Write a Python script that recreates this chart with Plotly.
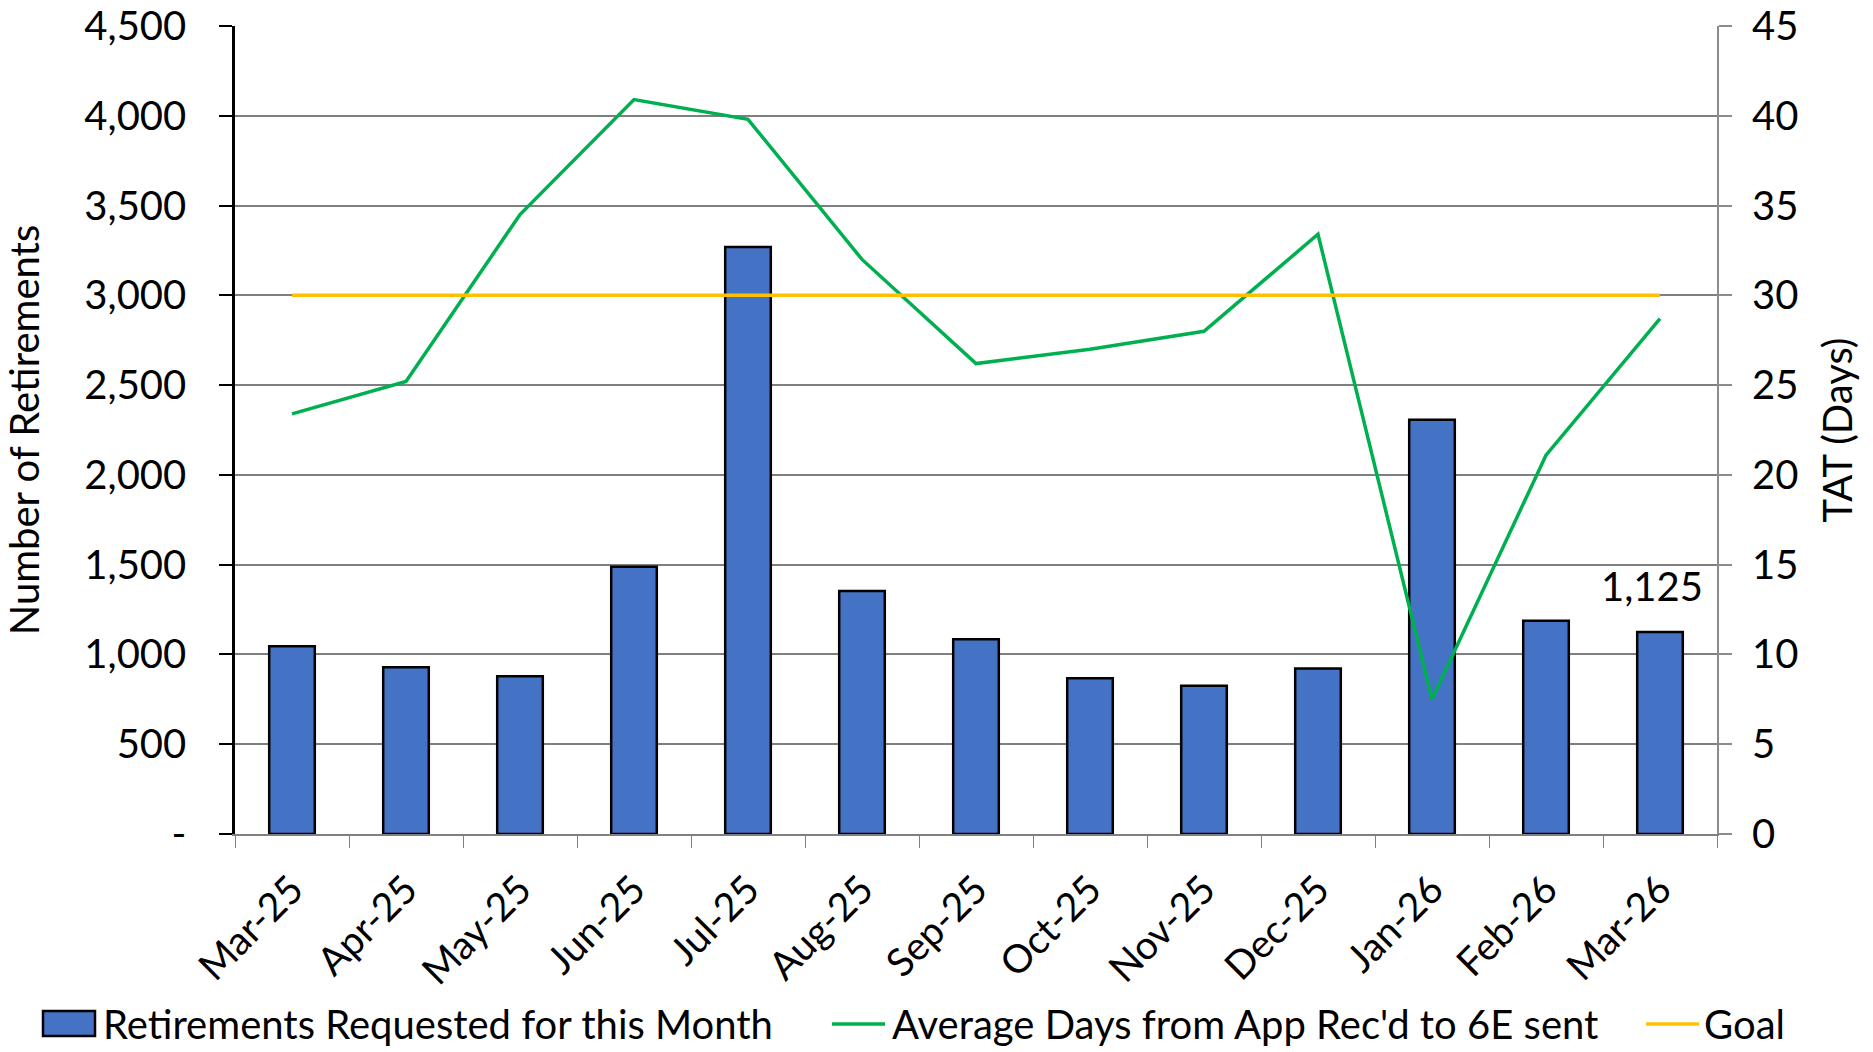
import plotly.graph_objects as go

# data
months = ["Mar-25", "Apr-25", "May-25", "Jun-25", "Jul-25", "Aug-25", "Sep-25",
          "Oct-25", "Nov-25", "Dec-25", "Jan-26", "Feb-26", "Mar-26"]
retirements = [1045, 929, 879, 1489, 3269, 1354, 1084, 868, 825, 922, 2307, 1188, 1125]
avg_days = [23.4, 25.2, 34.5, 40.9, 39.8, 32.0, 26.2, 27.0, 28.0, 33.4, 7.5, 21.1, 28.7]
goal = [30] * len(months)

left_ticks = [0, 500, 1000, 1500, 2000, 2500, 3000, 3500, 4000, 4500]
left_labels = ["-", "500", "1,000", "1,500", "2,000", "2,500", "3,000", "3,500", "4,000", "4,500"]
right_ticks = [0, 5, 10, 15, 20, 25, 30, 35, 40, 45]

bar_name = "Retirements Requested for this Month"
avg_name = "Average Days from App Rec'd to 6E sent"
goal_name = "Goal"

FONT = "Lato"
FS = 40
BLUE = "#4472C4"
GREEN = "#00B050"
GOLD = "#FFC000"

W, H = 1873, 1052
L, R, T, B = 235, 156, 26, 218


def px(x):  # page pixel -> paper x
    return (x - L) / (W - L - R)


def py(y):  # page pixel -> paper y
    return (H - B - y) / (H - T - B)


fig = go.Figure()

fig.add_trace(go.Bar(
    x=months, y=retirements, name=bar_name,
    width=0.4, marker=dict(color=BLUE, line=dict(color="black", width=2.5)),
    yaxis="y",
))
fig.add_trace(go.Scatter(
    x=months, y=avg_days, name=avg_name,
    mode="lines", line=dict(color=GREEN, width=3.5), yaxis="y2",
))
fig.add_trace(go.Scatter(
    x=months, y=goal, name=goal_name,
    mode="lines", line=dict(color=GOLD, width=3.5), yaxis="y2",
))

# data label on the last bar only
fig.add_annotation(
    x=months[-1], y=retirements[-1], yref="y", text=f"{retirements[-1]:,}",
    showarrow=False, yanchor="bottom", yshift=20, xshift=-8,
    font=dict(family=FONT, size=FS, color="black"),
)

# legend row along the bottom, drawn like the original (wide swatches)
leg_y = 1024
fig.add_shape(type="rect", xref="paper", yref="paper",
              x0=px(43), x1=px(95), y0=py(leg_y + 12), y1=py(leg_y - 13),
              fillcolor=BLUE, line=dict(color="black", width=2.5))
fig.add_shape(type="line", xref="paper", yref="paper",
              x0=px(832), x1=px(885), y0=py(leg_y), y1=py(leg_y),
              line=dict(color=GREEN, width=3.5))
fig.add_shape(type="line", xref="paper", yref="paper",
              x0=px(1646), x1=px(1699), y0=py(leg_y), y1=py(leg_y),
              line=dict(color=GOLD, width=3.5))
for name, x in [(bar_name, 101), (avg_name, 890), (goal_name, 1702)]:
    fig.add_annotation(xref="paper", yref="paper", x=px(x), y=py(leg_y),
                       xanchor="left", yanchor="middle", showarrow=False, text=name,
                       font=dict(family=FONT, size=FS, color="black"))

fig.update_layout(
    width=W, height=H,
    margin=dict(l=L, r=R, t=T, b=B, autoexpand=False),
    paper_bgcolor="white", plot_bgcolor="white",
    font=dict(family=FONT, size=FS, color="black"),
    showlegend=False,
    xaxis=dict(
        type="category", range=[-0.5, 12.5], tickangle=-45,
        tickson="boundaries", ticks="outside", ticklen=12, tickcolor="#808080",
        showline=True, linecolor="#808080", linewidth=2,
        showgrid=False, ticklabelstandoff=15, automargin=False,
        tickfont=dict(family=FONT, size=39),
    ),
    yaxis=dict(
        range=[0, 4500], tickvals=left_ticks, ticktext=left_labels,
        showline=True, linecolor="black", linewidth=2.5,
        ticks="outside", ticklen=13, tickcolor="black", tickwidth=2,
        showgrid=True, gridcolor="#7f7f7f", gridwidth=1.5,
        zeroline=False, ticklabelstandoff=25, ticklabeloverflow="allow",
        automargin=False,
        title=dict(text="Number of Retirements", standoff=34,
                   font=dict(family=FONT, size=FS)),
    ),
    yaxis2=dict(
        range=[0, 45], tickvals=right_ticks, overlaying="y", side="right",
        showline=True, linecolor="#8c8c8c", linewidth=2,
        ticks="outside", ticklen=13, tickcolor="#8c8c8c", tickwidth=2,
        showgrid=False, zeroline=False, ticklabelstandoff=12,
        ticklabeloverflow="allow", automargin=False,
        title=dict(text="TAT (Days)", standoff=27,
                   font=dict(family=FONT, size=FS)),
    ),
)

# the page's default body margin would push the figure off the window
fig.write_html("out.html", config={"displayModeBar": False},
               post_script="document.body.style.margin = '0';")
